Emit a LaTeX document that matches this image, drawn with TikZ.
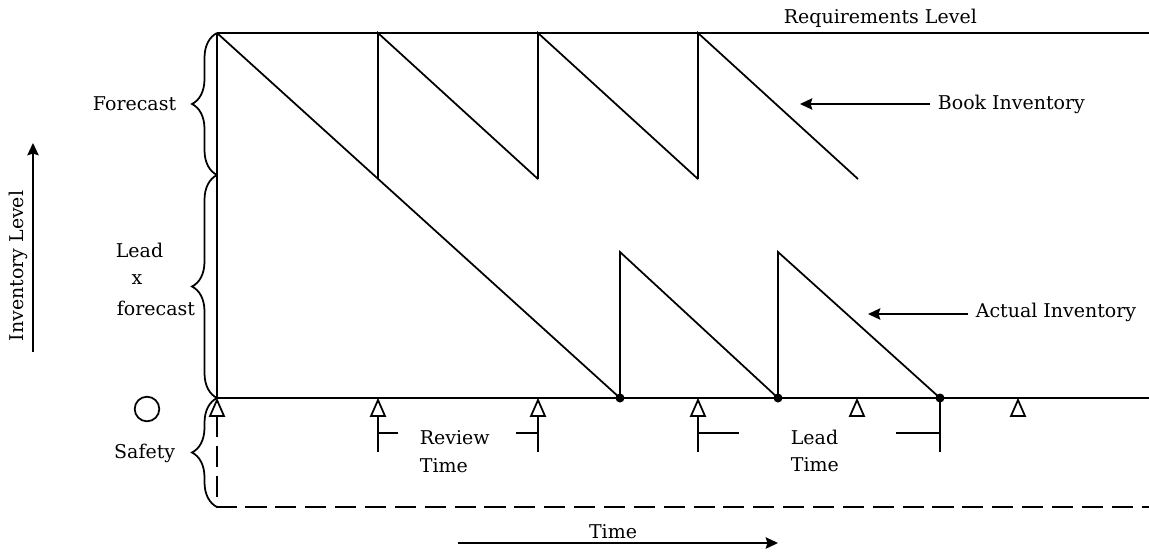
\documentclass[tikz,border=0pt]{standalone}
\usepackage{fontspec}
\setmainfont{DejaVu Serif}
\usetikzlibrary{decorations.pathreplacing,arrows.meta}
\tikzset{
  lbl/.style={inner sep=0pt},
  bracel/.style={decorate,decoration={brace,amplitude=0.5cm}},
  tri/.style={fill=white},
  dsh/.style={dash pattern=on 12pt off 5pt}
}
\begin{document}
\begin{tikzpicture}[x=0.02cm,y=-0.02cm,>={Stealth[length=7pt,width=6.5pt,inset=1pt]},
    line width=1pt,font=\fontsize{10.8}{13}\selectfont]
  \useasboundingbox (0,0) rectangle (1149,552);

  % 框线
  \coordinate (TL) at (217,33);
  \coordinate (TR) at (1149,33);
  \coordinate (BL) at (217,398);
  \coordinate (BR) at (1149,398);
  \coordinate (DL) at (217,507);
  \coordinate (DR) at (1149,507);
  \draw (TL) -- (TR);
  \draw (TL) -- (BL) -- (BR);
  \draw[dsh] (217,416) -- (DL) -- (DR);
  \node[lbl,anchor=base west] (req) at (783,23) {Requirements Level};

  % 账面库存
  \coordinate (A1) at (620,398);
  \coordinate (A2) at (778,398);
  \coordinate (A3) at (940,398);
  \draw (TL) -- (A1);
  \foreach \x in {378,538,698}
    \draw (\x,179) -- (\x,33) -- (\x+160,179);

  % 实际库存
  \draw (A1) -- (620,252) -- (A2) -- (778,252) -- (A3);
  \foreach \p in {A1,A2,A3}
    \fill (\p) circle (4.5);

  % 订货点三角
  \foreach \x in {217,378,538,698,857,1018}
    \draw[tri] (\x,400) -- ++(-7,16) -- ++(14,0) -- cycle;

  % 审查期与提前期
  \draw (378,416) -- (378,452);
  \draw (538,416) -- (538,452);
  \draw (698,416) -- (698,452);
  \draw (A3) -- (940,452);
  \draw (378,433) -- (398,433);
  \draw (516,433) -- (538,433);
  \draw (698,433) -- (739,433);
  \draw (896,433) -- (940,433);
  \node[lbl,anchor=west] (rev) at (419,438) {Review};
  \node[lbl,anchor=west] (revt) at (419,466) {Time};
  \node[lbl,anchor=west] (lead) at (790,437) {Lead};
  \node[lbl,anchor=west] (leadt) at (790,465) {Time};

  % 箭头标注
  \coordinate (bk) at (800,104);
  \coordinate (ac) at (868,314);
  \node[lbl,anchor=west] (book) at (937,104) {Book Inventory};
  \node[lbl,anchor=west] (act) at (975,312) {Actual Inventory};
  \draw[->,shorten <=4pt] (book.west) -- (bk);
  \draw[->,shorten <=4pt] (act.west |- ac) -- (ac);

  % 左侧括号
  \draw[bracel] (217,175) -- (TL);
  \draw[bracel] (BL) -- (217,175);
  \draw[bracel] (DL) -- (BL);
  \node[lbl,anchor=east] (fc) at (177,104) {Forecast};
  \node[lbl,anchor=west] (ld) at (115,250) {Lead};
  \node[lbl] (lx) at (137,280) {x};
  \node[lbl,anchor=west] (lf) at (116,308) {forecast};
  \node[lbl,anchor=east] (sf) at (176,453) {Safety};
  \node[draw,circle,minimum size=14,inner sep=0pt] (zero) at (147,409) {};

  % 坐标轴说明
  \coordinate (v0) at (33,352);
  \coordinate (v1) at (33,143);
  \draw[->] (v0) -- (v1);
  \node[lbl,rotate=90] (inv) at (18,266) {Inventory Level};
  \coordinate (h0) at (458,543);
  \coordinate (h1) at (778,543);
  \draw[->] (h0) -- (h1);
  \node[lbl] (tm) at (613,532) {Time};
\end{tikzpicture}
\end{document}
